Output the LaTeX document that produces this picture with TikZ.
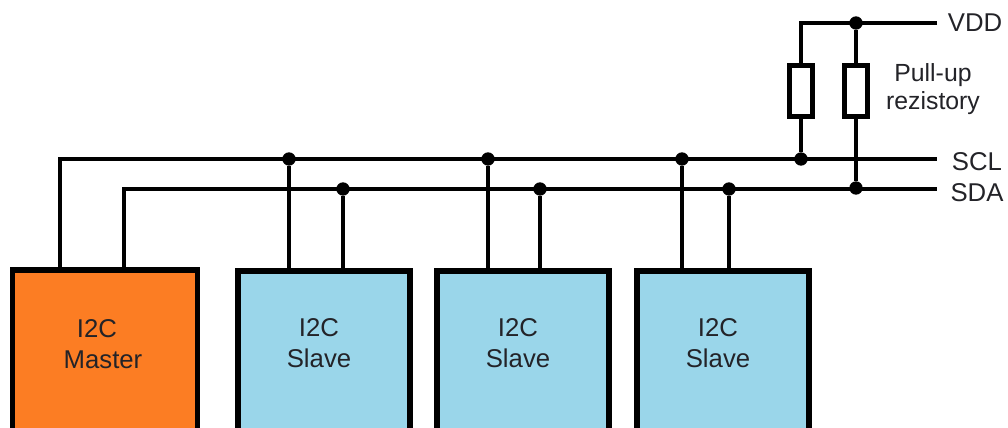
\documentclass[tikz,border=0pt]{standalone}
\usepackage{fontspec}
\setmainfont{Liberation Sans}
\definecolor{masterfill}{RGB}{252,125,35}
\definecolor{slavefill}{RGB}{154,214,234}
\definecolor{ink}{RGB}{35,35,40}
\tikzset{
  wire/.style={line width=3.5pt,black},
  master/.style={draw=black,fill=masterfill,line width=3.8pt,anchor=north,outer sep=0pt,
    minimum width=139pt,minimum height=150pt},
  slave/.style={draw=black,fill=slavefill,line width=3.8pt,anchor=north,outer sep=0pt,
    minimum width=129pt,minimum height=150pt},
  res/.style={draw=black,fill=white,line width=3.5pt,outer sep=0pt,minimum width=17.5pt,minimum height=38pt},
  dot/.style={circle,fill=black,inner sep=0pt,minimum size=10pt},
  tag/.style={font=\fontsize{19.3}{23.5}\selectfont,text=ink,align=center,inner sep=0pt},
}
\begin{document}
\begin{tikzpicture}[x=0.75pt,y=-0.75pt]
  \path[use as bounding box,clip] (0,0) rectangle (1008,428);
  \fill[white] (0,0) rectangle (1008,428);
  % bus ends
  \coordinate (vddend) at (937,23);
  \coordinate (sclend) at (937,159);
  \coordinate (sdaend) at (937,189);
  \coordinate (sclcorner) at (60,159);
  \coordinate (sdacorner) at (124,189);
  \coordinate (vddcorner) at (801,23);
  % blocks
  \node[master] (m) at (105,270) {};
  \node[tag] (mtext) at (103,344) {I2C\hspace*{9pt}\\Master};
  \foreach \x/\a/\b [count=\i] in {324/289/343,523/488/540,723/682/729}{
    \node[slave] (s\i) at (\x,271) {};
    \node[tag] at (\x-5,343) {I2C\\Slave};
    \node[dot] (cl\i) at (\a,159) {};
    \node[dot] (da\i) at (\b,189) {};
    \draw[wire] (cl\i) -- (cl\i |- s\i.north);
    \draw[wire] (da\i) -- (da\i |- s\i.north);
  }
  \draw[wire] (m.north -| sclcorner) -- (sclcorner) -- (sclend);
  \draw[wire] (m.north -| sdacorner) -- (sdacorner) -- (sdaend);
  % pull-ups
  \node[res] (r1) at (801,91) {};
  \node[res] (r2) at (856,91) {};
  \node[dot] (vj) at (856,23) {};
  \node[dot] (clj) at (801,159) {};
  \node[dot] (daj) at (856,188) {};
  \draw[wire] (vddend) -- (vddcorner) -- (r1);
  \draw[wire] (vj) -- (r2);
  \draw[wire] (r1) -- (clj);
  \draw[wire] (r2) -- (daj);
  \node[tag] (vdd) at (975,23) {VDD};
  \node[tag] (scl) at (977,162) {SCL};
  \node[tag] (sda) at (977,193) {SDA};
  \node[tag,font=\fontsize{18.6}{21}\selectfont] (pull) at (933,89) {Pull-up\\rezistory};
\end{tikzpicture}
\end{document}
